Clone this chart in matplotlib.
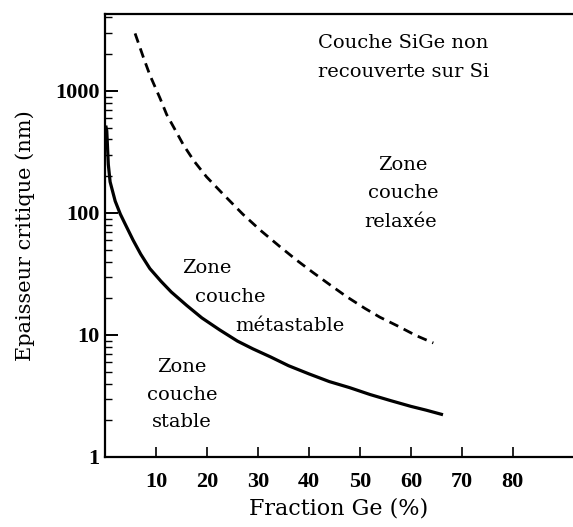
import matplotlib
matplotlib.use('Agg')
import matplotlib.pyplot as plt
from matplotlib.ticker import FixedLocator, LogLocator, NullFormatter

# curves (Ge fraction in %, critical thickness in nm)
stable_x = [0.15, 0.35, 0.65, 1.0, 2.0, 3.0, 3.9, 5.5, 7.0, 8.8, 11, 13, 16, 19,
            22.5, 26, 29, 32.5, 36, 40, 44, 48, 52, 56, 60, 63, 66.3]
stable_y = [520, 470, 250, 180, 125, 98, 82, 60, 46, 35, 27.5, 22.5, 17.5, 13.8,
            11, 8.9, 7.7, 6.6, 5.6, 4.8, 4.15, 3.7, 3.25, 2.9, 2.6, 2.42, 2.22]
relax_x = [5.9, 7.5, 8.8, 10.8, 12.1, 14, 15.4, 17.5, 19.9, 23, 27, 30.5, 34.3,
           37.6, 40.8, 44, 47.4, 51, 53.9, 57.5, 61, 64.4]
relax_y = [2960, 1900, 1350, 870, 640, 460, 360, 265, 198, 145, 98, 72, 53,
           41, 32.5, 26, 20.6, 16.5, 14, 11.8, 9.9, 8.6]

xticks = [10, 20, 30, 40, 50, 60, 70, 80]
yticks = [1, 10, 100, 1000]

serif = 'DejaVu Serif'

fig = plt.figure(figsize=(5.73, 5.27), dpi=100)
ax = fig.add_axes([105 / 573, 70 / 527, 1 - 105 / 573, 443 / 527])

ax.plot(stable_x, stable_y, color='black', lw=2.3, solid_capstyle='butt')
ax.plot(relax_x, relax_y, color='black', lw=2.0, dashes=(3.5, 2.2))

ax.set_yscale('log')
ax.set_xlim(0, 91.8)
ax.set_ylim(1, 4270)

ax.spines['right'].set_visible(False)
for s in ['left', 'bottom', 'top']:
    ax.spines[s].set_linewidth(1.6)

ax.xaxis.set_major_locator(FixedLocator(xticks))
ax.set_xticklabels([str(v) for v in xticks], family='Liberation Serif',
                   fontweight='bold', fontsize=16)
ax.yaxis.set_major_locator(FixedLocator(yticks))
ax.set_yticklabels([str(v) for v in yticks], family='Liberation Serif',
                   fontweight='bold', fontsize=16)
ax.yaxis.set_minor_locator(LogLocator(base=10, subs=range(2, 10)))
ax.yaxis.set_minor_formatter(NullFormatter())

ax.tick_params(axis='x', which='major', direction='in', length=7, width=1.2, pad=11)
ax.tick_params(axis='y', which='major', direction='in', length=9, width=1.4, pad=4)
ax.tick_params(axis='y', which='minor', direction='in', length=5, width=1.0)
ax.tick_params(top=False, right=False)

ax.set_xlabel('Fraction Ge (%)', family=serif, fontsize=16, labelpad=4)
ax.set_ylabel('Epaisseur critique (nm)', family=serif, fontsize=15, labelpad=14)

txt = dict(family=serif, fontsize=14, ha='center', va='center')


def px(x, y):
    # pixel position in the image -> data coords
    return (x - 105) / 5.1, 10 ** ((457 - y) / 122)


ax.text(*px(318, 43), 'Couche SiGe non', **{**txt, 'ha': 'left'})
ax.text(*px(318, 72), 'recouverte sur Si', **{**txt, 'ha': 'left'})

ax.text(*px(403, 165), 'Zone', **txt)
ax.text(*px(403, 193), 'couche', **txt)
ax.text(*px(401, 222), 'relaxée', **txt)

ax.text(*px(207, 268), 'Zone', **txt)
ax.text(*px(230, 297), 'couche', **txt)
ax.text(*px(290, 326), 'métastable', **txt)

ax.text(*px(182, 367), 'Zone', **txt)
ax.text(*px(182, 395), 'couche', **txt)
ax.text(*px(182, 422), 'stable', **txt)

plt.savefig('out.png', dpi=100)
